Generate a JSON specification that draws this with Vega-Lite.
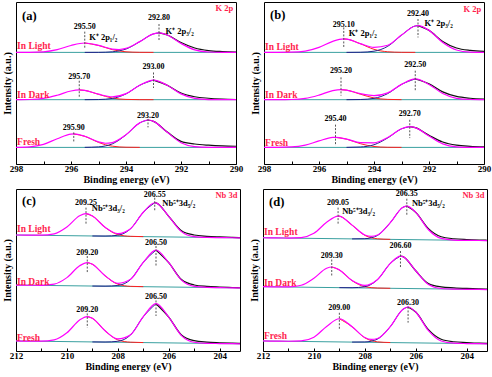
{
"$schema": "https://vega.github.io/schema/vega-lite/v6.json",
"padding": {"left": 1, "top": 1, "right": 2, "bottom": 0},
"background": "white",
"config": {
  "font": "Liberation Serif",
  "view": {"stroke": "#000", "strokeWidth": 1},
  "axis": {"labelFont": "Liberation Serif", "labelFontWeight": "bold", "labelFontSize": 9, "labelColor": "#000", "titleFont": "Liberation Serif", "titleFontWeight": "bold", "titleFontSize": 10, "titleColor": "#000", "grid": false, "domain": false, "tickColor": "#000"},
  "axisY": {"title": "Intensity (a.u.)", "labels": false, "ticks": false, "titlePadding": 4}
},
"datasets": {"d": [
{"p":"a","s":"L","x":298,"f":68.9,"b":68.9},
{"p":"a","s":"L","x":297.5,"f":68.94},
{"p":"a","s":"L","x":297,"f":69.27},
{"p":"a","s":"L","x":296.5,"f":70.61},
{"p":"a","s":"L","x":296,"f":73.17},
{"p":"a","s":"L","x":295.5,"f":74.7,"c1":74.7,"c2":68.9},
{"p":"a","s":"L","x":295,"f":73.2,"c1":73.17,"c2":68.93},
{"p":"a","s":"L","x":294.5,"f":70.96,"c1":70.61,"c2":69.25},
{"p":"a","s":"L","x":294.25,"f":70.68,"c1":69.76,"c2":69.82},
{"p":"a","s":"L","x":294,"f":71.33,"c1":69.27,"c2":70.96},
{"p":"a","s":"L","x":293.5,"f":75.54,"c1":68.94,"c2":75.5},
{"p":"a","s":"L","x":293,"f":80.32,"c1":68.9,"c2":80.32},
{"p":"a","s":"L","x":292.8,"f":80.9,"c2":80.9,"r":80.9},
{"p":"a","s":"L","x":292.5,"f":79.65,"r":79.65},
{"p":"a","s":"L","x":292,"f":74.4,"r":75.0},
{"p":"a","s":"L","x":291.5,"f":70.42,"r":71.6},
{"p":"a","s":"L","x":291,"f":69.13,"r":70.0},
{"p":"a","s":"L","x":290.5,"f":68.92,"r":69.4},
{"p":"a","s":"L","x":290,"f":68.9,"r":69.1,"b":68.9},
{"p":"a","s":"D","x":298,"f":39.7,"b":39.7},
{"p":"a","s":"D","x":297.5,"f":39.81},
{"p":"a","s":"D","x":297,"f":40.46},
{"p":"a","s":"D","x":296.5,"f":42.45},
{"p":"a","s":"D","x":296,"f":45.08},
{"p":"a","s":"D","x":295.7,"f":45.7,"c1":45.7},
{"p":"a","s":"D","x":295.5,"f":45.41,"c1":45.41,"c2":39.7},
{"p":"a","s":"D","x":295,"f":43.09,"c1":43.0,"c2":39.79},
{"p":"a","s":"D","x":294.5,"f":41.5,"c1":40.73,"c2":40.47},
{"p":"a","s":"D","x":294,"f":43.44,"c1":39.87,"c2":43.27},
{"p":"a","s":"D","x":293.5,"f":48.64,"c1":39.72,"c2":48.62},
{"p":"a","s":"D","x":293,"f":51.8,"c1":39.7,"c2":51.8,"r":51.8},
{"p":"a","s":"D","x":292.5,"f":48.62,"r":48.62},
{"p":"a","s":"D","x":292,"f":43.27,"r":43.8},
{"p":"a","s":"D","x":291.5,"f":40.47,"r":41.5},
{"p":"a","s":"D","x":291,"f":39.79,"r":40.6},
{"p":"a","s":"D","x":290.5,"f":39.7,"r":40.1},
{"p":"a","s":"D","x":290,"f":39.7,"r":39.8,"b":39.7},
{"p":"a","s":"F","x":298,"f":10.29,"b":10.25},
{"p":"a","s":"F","x":297.5,"f":10.62},
{"p":"a","s":"F","x":297,"f":12.14},
{"p":"a","s":"F","x":296.5,"f":15.6},
{"p":"a","s":"F","x":296,"f":18.45},
{"p":"a","s":"F","x":295.9,"f":18.55,"c1":18.55},
{"p":"a","s":"F","x":295.5,"f":17.11,"c1":17.08,"c2":10.28},
{"p":"a","s":"F","x":295,"f":13.66,"c1":13.34,"c2":10.57},
{"p":"a","s":"F","x":294.75,"f":12.8,"c1":11.9,"c2":11.15},
{"p":"a","s":"F","x":294.5,"f":13.16,"c1":11.01,"c2":12.4},
{"p":"a","s":"F","x":294,"f":18.09,"c1":10.35,"c2":17.99},
{"p":"a","s":"F","x":293.5,"f":25.4,"c1":10.26,"c2":25.39},
{"p":"a","s":"F","x":293.2,"f":27.15,"c2":27.15,"r":27.15},
{"p":"a","s":"F","x":293,"f":26.34,"r":26.34},
{"p":"a","s":"F","x":292.5,"f":19.55,"r":19.7},
{"p":"a","s":"F","x":292,"f":13.16,"r":13.96},
{"p":"a","s":"F","x":291.5,"f":10.74,"r":12.34},
{"p":"a","s":"F","x":291,"f":10.3,"r":11.6},
{"p":"a","s":"F","x":290.5,"f":10.25,"r":11.15},
{"p":"a","s":"F","x":290,"f":10.25,"r":10.95,"b":10.25},
{"p":"b","s":"L","x":298,"f":68.9,"b":68.9},
{"p":"b","s":"L","x":297.5,"f":68.91},
{"p":"b","s":"L","x":297,"f":69.0},
{"p":"b","s":"L","x":296.5,"f":69.66},
{"p":"b","s":"L","x":296,"f":71.99},
{"p":"b","s":"L","x":295.5,"f":75.73},
{"p":"b","s":"L","x":295.1,"f":77.2,"c1":77.2},
{"p":"b","s":"L","x":295,"f":77.1,"c1":77.1,"c2":68.9},
{"p":"b","s":"L","x":294.5,"f":74.33,"c1":74.25,"c2":68.98},
{"p":"b","s":"L","x":294,"f":72.0,"c1":70.79,"c2":69.63},
{"p":"b","s":"L","x":293.5,"f":73.3,"c1":69.27,"c2":72.66},
{"p":"b","s":"L","x":293,"f":79.57,"c1":68.94,"c2":79.53},
{"p":"b","s":"L","x":292.5,"f":85.2,"c1":68.9,"c2":85.2},
{"p":"b","s":"L","x":292.4,"f":85.4,"c2":85.4,"r":85.4},
{"p":"b","s":"L","x":292,"f":82.48,"r":82.48},
{"p":"b","s":"L","x":291.5,"f":75.04,"r":75.64},
{"p":"b","s":"L","x":291,"f":70.4,"r":71.6},
{"p":"b","s":"L","x":290.5,"f":69.1,"r":70.1},
{"p":"b","s":"L","x":290,"f":68.91,"r":69.5,"b":68.9},
{"p":"b","s":"D","x":298,"f":39.7,"b":39.7},
{"p":"b","s":"D","x":297.5,"f":39.71},
{"p":"b","s":"D","x":297,"f":39.82},
{"p":"b","s":"D","x":296.5,"f":40.49},
{"p":"b","s":"D","x":296,"f":42.54},
{"p":"b","s":"D","x":295.5,"f":45.26},
{"p":"b","s":"D","x":295.2,"f":45.9,"c1":45.9},
{"p":"b","s":"D","x":295,"f":45.6,"c1":45.6,"c2":39.7},
{"p":"b","s":"D","x":294.5,"f":43.4,"c1":43.11,"c2":39.8},
{"p":"b","s":"D","x":294,"f":42.2,"c1":40.77,"c2":40.52},
{"p":"b","s":"D","x":293.5,"f":43.9,"c1":39.88,"c2":43.48},
{"p":"b","s":"D","x":293,"f":49.15,"c1":39.72,"c2":49.13},
{"p":"b","s":"D","x":292.5,"f":52.5,"c2":52.5,"r":52.5},
{"p":"b","s":"D","x":292,"f":49.13,"r":49.5},
{"p":"b","s":"D","x":291.5,"f":43.48,"r":44.5},
{"p":"b","s":"D","x":291,"f":40.52,"r":41.7},
{"p":"b","s":"D","x":290.5,"f":39.8,"r":40.6},
{"p":"b","s":"D","x":290,"f":39.7,"r":40.1,"b":39.7},
{"p":"b","s":"F","x":298,"f":10.25,"b":10.25},
{"p":"b","s":"F","x":297.5,"f":10.28},
{"p":"b","s":"F","x":297,"f":10.52},
{"p":"b","s":"F","x":296.5,"f":11.66},
{"p":"b","s":"F","x":296,"f":14.24},
{"p":"b","s":"F","x":295.5,"f":16.38},
{"p":"b","s":"F","x":295.4,"f":16.45,"c1":16.45},
{"p":"b","s":"F","x":295,"f":15.37,"c1":15.35,"c2":10.27},
{"p":"b","s":"F","x":294.5,"f":13.2,"c1":12.56,"c2":10.49},
{"p":"b","s":"F","x":294,"f":13.1,"c1":10.81,"c2":11.88},
{"p":"b","s":"F","x":293.5,"f":16.4,"c1":10.32,"c2":16.11},
{"p":"b","s":"F","x":293,"f":21.72,"c1":10.26,"c2":21.72},
{"p":"b","s":"F","x":292.7,"f":23.05,"c2":23.05,"r":23.05},
{"p":"b","s":"F","x":292.5,"f":22.44,"r":22.44},
{"p":"b","s":"F","x":292,"f":17.29,"r":17.7},
{"p":"b","s":"F","x":291.5,"f":12.45,"r":13.55},
{"p":"b","s":"F","x":291,"f":10.62,"r":11.6},
{"p":"b","s":"F","x":290.5,"f":10.28,"r":10.9},
{"p":"b","s":"F","x":290,"f":10.25,"r":10.55,"b":10.25},
{"p":"c","s":"L","x":212,"f":71.6,"b":71.6},
{"p":"c","s":"L","x":211.5,"f":71.5},
{"p":"c","s":"L","x":211,"f":71.49},
{"p":"c","s":"L","x":210.5,"f":72.34},
{"p":"c","s":"L","x":210,"f":76.61},
{"p":"c","s":"L","x":209.5,"f":83.46},
{"p":"c","s":"L","x":209.25,"f":84.75,"c1":84.75},
{"p":"c","s":"L","x":209,"f":83.36,"c1":83.36,"c2":71.0},
{"p":"c","s":"L","x":208.5,"f":76.35,"c1":76.31,"c2":70.94},
{"p":"c","s":"L","x":208,"f":72.49,"c1":71.84,"c2":71.45},
{"p":"c","s":"L","x":207.5,"f":75.52,"c1":70.79,"c2":75.43},
{"p":"c","s":"L","x":207,"f":85.64,"c1":70.6,"c2":85.64},
{"p":"c","s":"L","x":206.55,"f":91.51,"c2":91.51,"r":91.51},
{"p":"c","s":"L","x":206.5,"f":91.42,"r":91.42},
{"p":"c","s":"L","x":206,"f":83.15,"r":83.15},
{"p":"c","s":"L","x":205.5,"f":73.7,"r":74.2},
{"p":"c","s":"L","x":205,"f":70.6,"r":71.6},
{"p":"c","s":"L","x":204.5,"f":70.12,"r":70.8},
{"p":"c","s":"L","x":204,"f":70.0,"r":70.4},
{"p":"c","s":"L","x":203.5,"f":69.9,"r":70.1},
{"p":"c","s":"L","x":203,"f":69.8,"r":69.9,"b":69.8},
{"p":"c","s":"D","x":212,"f":40.7,"b":40.7},
{"p":"c","s":"D","x":211.5,"f":40.6},
{"p":"c","s":"D","x":211,"f":40.57},
{"p":"c","s":"D","x":210.5,"f":41.28},
{"p":"c","s":"D","x":210,"f":45.3},
{"p":"c","s":"D","x":209.5,"f":52.61},
{"p":"c","s":"D","x":209.2,"f":54.54,"c1":54.54},
{"p":"c","s":"D","x":209,"f":53.58,"c1":53.58,"c2":40.1},
{"p":"c","s":"D","x":208.5,"f":46.44,"c1":46.41,"c2":40.03},
{"p":"c","s":"D","x":208,"f":41.78,"c1":41.23,"c2":40.45},
{"p":"c","s":"D","x":207.5,"f":44.26,"c1":39.92,"c2":44.14},
{"p":"c","s":"D","x":207,"f":54.74,"c1":39.71,"c2":54.73},
{"p":"c","s":"D","x":206.5,"f":62.3,"c2":62.3,"r":62.3},
{"p":"c","s":"D","x":206,"f":54.53,"r":54.53},
{"p":"c","s":"D","x":205.5,"f":43.74,"r":44.1},
{"p":"c","s":"D","x":205,"f":39.85,"r":40.75},
{"p":"c","s":"D","x":204.5,"f":39.23,"r":39.9},
{"p":"c","s":"D","x":204,"f":39.1,"r":39.5},
{"p":"c","s":"D","x":203.5,"f":39.0,"r":39.2},
{"p":"c","s":"D","x":203,"f":38.9,"r":38.95,"b":38.9},
{"p":"c","s":"F","x":212,"f":6.2,"b":6.2},
{"p":"c","s":"F","x":211.5,"f":6.1},
{"p":"c","s":"F","x":211,"f":6.07},
{"p":"c","s":"F","x":210.5,"f":6.85},
{"p":"c","s":"F","x":210,"f":11.21},
{"p":"c","s":"F","x":209.5,"f":19.15},
{"p":"c","s":"F","x":209.2,"f":21.24,"c1":21.24},
{"p":"c","s":"F","x":209,"f":20.2,"c1":20.2,"c2":5.6},
{"p":"c","s":"F","x":208.5,"f":12.47,"c1":12.44,"c2":5.53},
{"p":"c","s":"F","x":208,"f":7.43,"c1":6.84,"c2":5.99},
{"p":"c","s":"F","x":207.5,"f":10.03,"c1":5.43,"c2":9.9},
{"p":"c","s":"F","x":207,"f":21.16,"c1":5.21,"c2":21.15},
{"p":"c","s":"F","x":206.5,"f":29.2,"c2":29.2,"r":29.2},
{"p":"c","s":"F","x":206,"f":20.95,"r":20.95},
{"p":"c","s":"F","x":205.5,"f":9.5,"r":9.9},
{"p":"c","s":"F","x":205,"f":5.39,"r":6.4},
{"p":"c","s":"F","x":204.5,"f":4.73,"r":5.5},
{"p":"c","s":"F","x":204,"f":4.6,"r":5.1},
{"p":"c","s":"F","x":203.5,"f":4.5,"r":4.8},
{"p":"c","s":"F","x":203,"f":4.4,"r":4.6,"b":4.4},
{"p":"d","s":"L","x":212,"f":69.9,"b":69.9},
{"p":"d","s":"L","x":211.5,"f":69.8},
{"p":"d","s":"L","x":211,"f":69.73},
{"p":"d","s":"L","x":210.5,"f":70.03},
{"p":"d","s":"L","x":210,"f":72.65},
{"p":"d","s":"L","x":209.5,"f":79.42},
{"p":"d","s":"L","x":209.05,"f":83.31,"c1":83.31},
{"p":"d","s":"L","x":209,"f":83.24,"c1":83.24},
{"p":"d","s":"L","x":208.5,"f":77.71,"c1":77.7,"c2":69.2},
{"p":"d","s":"L","x":208,"f":71.6,"c1":71.37,"c2":69.33},
{"p":"d","s":"L","x":207.75,"f":70.72,"c1":69.91,"c2":69.86},
{"p":"d","s":"L","x":207.5,"f":71.58,"c1":69.26,"c2":71.32},
{"p":"d","s":"L","x":207,"f":79.2,"c1":68.91,"c2":79.19},
{"p":"d","s":"L","x":206.5,"f":88.73,"c2":88.73},
{"p":"d","s":"L","x":206.35,"f":89.47,"c2":89.47,"r":89.47},
{"p":"d","s":"L","x":206,"f":85.61,"r":85.61},
{"p":"d","s":"L","x":205.5,"f":74.87,"r":75.5},
{"p":"d","s":"L","x":205,"f":69.52,"r":70.5},
{"p":"d","s":"L","x":204.5,"f":68.47,"r":69.3},
{"p":"d","s":"L","x":204,"f":68.3,"r":68.8},
{"p":"d","s":"L","x":203.5,"f":68.2,"r":68.5},
{"p":"d","s":"L","x":203,"f":68.1,"r":68.3,"b":68.1},
{"p":"d","s":"D","x":212,"f":39.7,"b":39.7},
{"p":"d","s":"D","x":211.5,"f":39.6},
{"p":"d","s":"D","x":211,"f":39.61},
{"p":"d","s":"D","x":210.5,"f":40.58},
{"p":"d","s":"D","x":210,"f":44.95},
{"p":"d","s":"D","x":209.5,"f":51.09},
{"p":"d","s":"D","x":209.3,"f":51.86,"c1":51.86},
{"p":"d","s":"D","x":209,"f":50.05,"c1":50.05,"c2":39.1},
{"p":"d","s":"D","x":208.5,"f":43.46,"c1":43.41,"c2":39.05},
{"p":"d","s":"D","x":208,"f":40.46,"c1":39.68,"c2":39.68},
{"p":"d","s":"D","x":207.5,"f":44.1,"c1":38.86,"c2":44.04},
{"p":"d","s":"D","x":207,"f":54.06,"c1":38.7,"c2":54.06},
{"p":"d","s":"D","x":206.6,"f":58.62,"c2":58.62,"r":58.62},
{"p":"d","s":"D","x":206.5,"f":58.28,"r":58.28},
{"p":"d","s":"D","x":206,"f":49.54,"r":49.54},
{"p":"d","s":"D","x":205.5,"f":41.1,"r":41.6},
{"p":"d","s":"D","x":205,"f":38.59,"r":39.6},
{"p":"d","s":"D","x":204.5,"f":38.21,"r":39.0},
{"p":"d","s":"D","x":204,"f":38.1,"r":38.6},
{"p":"d","s":"D","x":203.5,"f":38.0,"r":38.3},
{"p":"d","s":"D","x":203,"f":37.9,"r":38.1,"b":37.9},
{"p":"d","s":"F","x":212,"f":6.2,"b":6.2},
{"p":"d","s":"F","x":211.5,"f":6.1},
{"p":"d","s":"F","x":211,"f":6.02},
{"p":"d","s":"F","x":210.5,"f":6.25},
{"p":"d","s":"F","x":210,"f":8.53},
{"p":"d","s":"F","x":209.5,"f":15.17},
{"p":"d","s":"F","x":209,"f":19.9,"c1":19.9},
{"p":"d","s":"F","x":208.5,"f":14.97,"c1":14.97,"c2":5.5},
{"p":"d","s":"F","x":208,"f":8.32,"c1":8.13,"c2":5.59},
{"p":"d","s":"F","x":207.75,"f":7.12,"c1":6.43,"c2":6.04},
{"p":"d","s":"F","x":207.5,"f":7.7,"c1":5.65,"c2":7.35},
{"p":"d","s":"F","x":207,"f":15.05,"c1":5.22,"c2":15.03},
{"p":"d","s":"F","x":206.5,"f":25.79,"c2":25.79},
{"p":"d","s":"F","x":206.3,"f":27.16,"c2":27.16,"r":27.16},
{"p":"d","s":"F","x":206,"f":24.05,"r":24.05},
{"p":"d","s":"F","x":205.5,"f":12.57,"r":13.2},
{"p":"d","s":"F","x":205,"f":6.15,"r":7.25},
{"p":"d","s":"F","x":204.5,"f":4.8,"r":5.7},
{"p":"d","s":"F","x":204,"f":4.6,"r":5.2},
{"p":"d","s":"F","x":203.5,"f":4.5,"r":4.8},
{"p":"d","s":"F","x":203,"f":4.4,"r":4.6,"b":4.4},
{"p":"a","k":"num","x":295.5,"y":84.75,"t":"295.50"},
{"p":"a","k":"num","x":292.8,"y":89.9,"t":"292.80"},
{"p":"a","k":"num","x":295.7,"y":53.9,"t":"295.70"},
{"p":"a","k":"num","x":293.0,"y":59.6,"t":"293.00"},
{"p":"a","k":"num","x":295.9,"y":22.2,"t":"295.90"},
{"p":"a","k":"num","x":293.2,"y":29.8,"t":"293.20"},
{"p":"a","k":"dash","x":295.5,"y1":81.7,"y2":71.6},
{"p":"a","k":"dash","x":292.8,"y1":86.4,"y2":76.5},
{"p":"a","k":"dash","x":295.7,"y1":51.4,"y2":41.1},
{"p":"a","k":"dash","x":293.0,"y1":56.5,"y2":46.9},
{"p":"a","k":"dash","x":295.9,"y1":19.5,"y2":13.3},
{"p":"a","k":"dash","x":293.2,"y1":27.8,"y2":22.6},
{"p":"a","k":"ann","x":295.34,"y":78.6,"t":"K⁺ 2p₁/₂"},
{"p":"a","k":"ann","x":292.56,"y":82.4,"t":"K⁺ 2p₃/₂"},
{"p":"a","k":"cond","x":297.96,"y":72.6,"t":"In Light"},
{"p":"a","k":"cond","x":297.96,"y":42.6,"t":"In Dark"},
{"p":"a","k":"cond","x":297.96,"y":13.3,"t":"Fresh"},
{"p":"a","k":"lab","x":297.78,"y":91.5,"t":"(a)"},
{"p":"a","k":"el","x":290.1,"y":96.2,"t":"K 2p"},
{"p":"b","k":"num","x":295.1,"y":86.0,"t":"295.10"},
{"p":"b","k":"num","x":292.4,"y":92.6,"t":"292.40"},
{"p":"b","k":"num","x":295.2,"y":57.2,"t":"295.20"},
{"p":"b","k":"num","x":292.5,"y":61.4,"t":"292.50"},
{"p":"b","k":"num","x":295.4,"y":27.8,"t":"295.40"},
{"p":"b","k":"num","x":292.7,"y":30.9,"t":"292.70"},
{"p":"b","k":"dash","x":295.1,"y1":84.3,"y2":72.0},
{"p":"b","k":"dash","x":292.4,"y1":89.5,"y2":78.1},
{"p":"b","k":"dash","x":295.2,"y1":53.5,"y2":42.2},
{"p":"b","k":"dash","x":292.5,"y1":57.6,"y2":45.2},
{"p":"b","k":"dash","x":295.4,"y1":24.3,"y2":11.3},
{"p":"b","k":"dash","x":292.7,"y1":27.3,"y2":16.0},
{"p":"b","k":"ann","x":294.92,"y":80.9,"t":"K⁺ 2p₁/₂"},
{"p":"b","k":"ann","x":292.16,"y":86.8,"t":"K⁺ 2p₃/₂"},
{"p":"b","k":"cond","x":297.96,"y":72.0,"t":"In Light"},
{"p":"b","k":"cond","x":297.96,"y":42.8,"t":"In Dark"},
{"p":"b","k":"cond","x":297.96,"y":12.7,"t":"Fresh"},
{"p":"b","k":"lab","x":297.78,"y":92.0,"t":"(b)"},
{"p":"b","k":"el","x":290.1,"y":95.7,"t":"K 2p"},
{"p":"c","k":"num","x":209.25,"y":91.5,"t":"209.25"},
{"p":"c","k":"num","x":206.55,"y":96.0,"t":"206.55"},
{"p":"c","k":"num","x":209.2,"y":60.7,"t":"209.20"},
{"p":"c","k":"num","x":206.5,"y":66.9,"t":"206.50"},
{"p":"c","k":"num","x":209.2,"y":25.1,"t":"209.20"},
{"p":"c","k":"num","x":206.5,"y":33.3,"t":"206.50"},
{"p":"c","k":"dash","x":209.25,"y1":88.5,"y2":78.6},
{"p":"c","k":"dash","x":206.55,"y1":94.6,"y2":86.0},
{"p":"c","k":"dash","x":209.2,"y1":58.6,"y2":48.3},
{"p":"c","k":"dash","x":206.5,"y1":64.8,"y2":52.5},
{"p":"c","k":"dash","x":209.2,"y1":23.2,"y2":14.4},
{"p":"c","k":"dash","x":206.5,"y1":31.2,"y2":21.6},
{"p":"c","k":"ann","x":209.02,"y":88.0,"t":"Nb⁵⁺3d₃/₂"},
{"p":"c","k":"ann","x":206.25,"y":91.5,"t":"Nb⁵⁺3d₅/₂"},
{"p":"c","k":"cond","x":211.96,"y":75.1,"t":"In Light"},
{"p":"c","k":"cond","x":211.96,"y":42.6,"t":"In Dark"},
{"p":"c","k":"cond","x":211.96,"y":8.2,"t":"Fresh"},
{"p":"c","k":"lab","x":211.76,"y":92.6,"t":"(c)"},
{"p":"c","k":"el","x":203.3,"y":96.3,"t":"Nb 3d"},
{"p":"d","k":"num","x":209.05,"y":91.5,"t":"209.05"},
{"p":"d","k":"num","x":206.35,"y":96.7,"t":"206.35"},
{"p":"d","k":"num","x":209.3,"y":58.6,"t":"209.30"},
{"p":"d","k":"num","x":206.6,"y":64.8,"t":"206.60"},
{"p":"d","k":"num","x":209.0,"y":26.3,"t":"209.00"},
{"p":"d","k":"num","x":206.3,"y":29.8,"t":"206.30"},
{"p":"d","k":"dash","x":209.05,"y1":88.5,"y2":77.8},
{"p":"d","k":"dash","x":206.35,"y1":94.0,"y2":83.3},
{"p":"d","k":"dash","x":209.3,"y1":56.5,"y2":46.3},
{"p":"d","k":"dash","x":206.6,"y1":61.7,"y2":51.4},
{"p":"d","k":"dash","x":209.0,"y1":23.6,"y2":13.3},
{"p":"d","k":"dash","x":206.3,"y1":27.2,"y2":17.5},
{"p":"d","k":"ann","x":208.89,"y":86.4,"t":"Nb⁵⁺3d₃/₂"},
{"p":"d","k":"ann","x":206.15,"y":91.5,"t":"Nb⁵⁺3d₅/₂"},
{"p":"d","k":"cond","x":211.96,"y":73.5,"t":"In Light"},
{"p":"d","k":"cond","x":211.96,"y":42.2,"t":"In Dark"},
{"p":"d","k":"cond","x":211.96,"y":9.3,"t":"Fresh"},
{"p":"d","k":"lab","x":211.76,"y":92.0,"t":"(d)"},
{"p":"d","k":"el","x":203.3,"y":96.3,"t":"Nb 3d"}
]},
"spacing": 3,
"vconcat": [
{"spacing": 5, "hconcat": [
{"width": 220, "height": 162, "data": {"name": "d"}, "transform": [{"filter": "datum.p=='a'"}],
 "encoding": {"x": {"field": "x", "type": "quantitative", "scale": {"domain": [290, 298], "reverse": true, "nice": false, "zero": false}, "axis": {"title": "Binding energy (eV)", "values": [290,291,292,293,294,295,296,297,298], "labelExpr": "datum.value % 2 == 0 ? datum.label : ''", "tickSize": -3, "labelPadding": 3, "titlePadding": 1, "labelFlush": false, "labelOverlap": false, "format": "d"}}},
 "layer": [
  {"transform": [{"filter": "isValid(datum.b)"}], "mark": {"type": "line", "color": "#3aa0a0", "strokeWidth": 1, "clip": true}, "encoding": {"y": {"field": "b", "type": "quantitative", "scale": {"domain": [0, 100]}, "title": "Intensity (a.u.)"}, "detail": {"field": "s"}}},
  {"transform": [{"filter": "isValid(datum.c1)"}], "mark": {"type": "line", "color": "#ff2020", "strokeWidth": 1, "interpolate": "monotone", "clip": true}, "encoding": {"y": {"field": "c1", "type": "quantitative", "scale": {"domain": [0, 100]}, "title": "Intensity (a.u.)"}, "detail": {"field": "s"}}},
  {"transform": [{"filter": "isValid(datum.c2)"}], "mark": {"type": "line", "color": "#20208a", "strokeWidth": 1, "interpolate": "monotone", "clip": true}, "encoding": {"y": {"field": "c2", "type": "quantitative", "scale": {"domain": [0, 100]}, "title": "Intensity (a.u.)"}, "detail": {"field": "s"}}},
  {"transform": [{"filter": "isValid(datum.r)"}], "mark": {"type": "line", "color": "#111", "strokeWidth": 1.2, "interpolate": "monotone", "clip": true}, "encoding": {"y": {"field": "r", "type": "quantitative", "scale": {"domain": [0, 100]}, "title": "Intensity (a.u.)"}, "detail": {"field": "s"}}},
  {"transform": [{"filter": "isValid(datum.f)"}], "mark": {"type": "line", "color": "#ff00ff", "strokeWidth": 1.2, "interpolate": "monotone", "clip": true}, "encoding": {"y": {"field": "f", "type": "quantitative", "scale": {"domain": [0, 100]}, "title": "Intensity (a.u.)"}, "detail": {"field": "s"}}},
  {"transform": [{"filter": "datum.k=='dash'"}], "mark": {"type": "rule", "color": "#555", "strokeWidth": 1, "strokeDash": [2, 1.5]}, "encoding": {"y": {"field": "y1", "type": "quantitative", "scale": {"domain": [0, 100]}, "title": "Intensity (a.u.)"}, "y2": {"field": "y2"}}},
  {"transform": [{"filter": "datum.k=='num'"}], "mark": {"type": "text", "font": "Liberation Serif", "fontWeight": "bold", "fontSize": 8, "color": "#000", "align": "center", "baseline": "middle"}, "encoding": {"y": {"field": "y", "type": "quantitative", "scale": {"domain": [0, 100]}, "title": "Intensity (a.u.)"}, "text": {"field": "t"}}},
  {"transform": [{"filter": "datum.k=='ann'"}], "mark": {"type": "text", "font": "Liberation Serif", "fontWeight": "bold", "fontSize": 8.5, "color": "#000", "align": "left", "baseline": "middle"}, "encoding": {"y": {"field": "y", "type": "quantitative", "scale": {"domain": [0, 100]}, "title": "Intensity (a.u.)"}, "text": {"field": "t"}}},
  {"transform": [{"filter": "datum.k=='cond'"}], "mark": {"type": "text", "font": "Liberation Serif", "fontWeight": "bold", "fontSize": 9.5, "color": "#ff1f4f", "align": "left", "baseline": "middle"}, "encoding": {"y": {"field": "y", "type": "quantitative", "scale": {"domain": [0, 100]}, "title": "Intensity (a.u.)"}, "text": {"field": "t"}}},
  {"transform": [{"filter": "datum.k=='lab'"}], "mark": {"type": "text", "font": "Liberation Serif", "fontWeight": "bold", "fontSize": 12.5, "color": "#000", "align": "left", "baseline": "middle"}, "encoding": {"y": {"field": "y", "type": "quantitative", "scale": {"domain": [0, 100]}, "title": "Intensity (a.u.)"}, "text": {"field": "t"}}},
  {"transform": [{"filter": "datum.k=='el'"}], "mark": {"type": "text", "font": "Liberation Serif", "fontWeight": "bold", "fontSize": 8.5, "color": "#ff1f4f", "align": "right", "baseline": "middle"}, "encoding": {"y": {"field": "y", "type": "quantitative", "scale": {"domain": [0, 100]}, "title": "Intensity (a.u.)"}, "text": {"field": "t"}}}
 ]},
{"width": 220, "height": 162, "data": {"name": "d"}, "transform": [{"filter": "datum.p=='b'"}],
 "encoding": {"x": {"field": "x", "type": "quantitative", "scale": {"domain": [290, 298], "reverse": true, "nice": false, "zero": false}, "axis": {"title": "Binding energy (eV)", "values": [290,291,292,293,294,295,296,297,298], "labelExpr": "datum.value % 2 == 0 ? datum.label : ''", "tickSize": -3, "labelPadding": 3, "titlePadding": 1, "labelFlush": false, "labelOverlap": false, "format": "d"}}},
 "layer": [
  {"transform": [{"filter": "isValid(datum.b)"}], "mark": {"type": "line", "color": "#3aa0a0", "strokeWidth": 1, "clip": true}, "encoding": {"y": {"field": "b", "type": "quantitative", "scale": {"domain": [0, 100]}, "title": "Intensity (a.u.)"}, "detail": {"field": "s"}}},
  {"transform": [{"filter": "isValid(datum.c1)"}], "mark": {"type": "line", "color": "#ff2020", "strokeWidth": 1, "interpolate": "monotone", "clip": true}, "encoding": {"y": {"field": "c1", "type": "quantitative", "scale": {"domain": [0, 100]}, "title": "Intensity (a.u.)"}, "detail": {"field": "s"}}},
  {"transform": [{"filter": "isValid(datum.c2)"}], "mark": {"type": "line", "color": "#20208a", "strokeWidth": 1, "interpolate": "monotone", "clip": true}, "encoding": {"y": {"field": "c2", "type": "quantitative", "scale": {"domain": [0, 100]}, "title": "Intensity (a.u.)"}, "detail": {"field": "s"}}},
  {"transform": [{"filter": "isValid(datum.r)"}], "mark": {"type": "line", "color": "#111", "strokeWidth": 1.2, "interpolate": "monotone", "clip": true}, "encoding": {"y": {"field": "r", "type": "quantitative", "scale": {"domain": [0, 100]}, "title": "Intensity (a.u.)"}, "detail": {"field": "s"}}},
  {"transform": [{"filter": "isValid(datum.f)"}], "mark": {"type": "line", "color": "#ff00ff", "strokeWidth": 1.2, "interpolate": "monotone", "clip": true}, "encoding": {"y": {"field": "f", "type": "quantitative", "scale": {"domain": [0, 100]}, "title": "Intensity (a.u.)"}, "detail": {"field": "s"}}},
  {"transform": [{"filter": "datum.k=='dash'"}], "mark": {"type": "rule", "color": "#555", "strokeWidth": 1, "strokeDash": [2, 1.5]}, "encoding": {"y": {"field": "y1", "type": "quantitative", "scale": {"domain": [0, 100]}, "title": "Intensity (a.u.)"}, "y2": {"field": "y2"}}},
  {"transform": [{"filter": "datum.k=='num'"}], "mark": {"type": "text", "font": "Liberation Serif", "fontWeight": "bold", "fontSize": 8, "color": "#000", "align": "center", "baseline": "middle"}, "encoding": {"y": {"field": "y", "type": "quantitative", "scale": {"domain": [0, 100]}, "title": "Intensity (a.u.)"}, "text": {"field": "t"}}},
  {"transform": [{"filter": "datum.k=='ann'"}], "mark": {"type": "text", "font": "Liberation Serif", "fontWeight": "bold", "fontSize": 8.5, "color": "#000", "align": "left", "baseline": "middle"}, "encoding": {"y": {"field": "y", "type": "quantitative", "scale": {"domain": [0, 100]}, "title": "Intensity (a.u.)"}, "text": {"field": "t"}}},
  {"transform": [{"filter": "datum.k=='cond'"}], "mark": {"type": "text", "font": "Liberation Serif", "fontWeight": "bold", "fontSize": 9.5, "color": "#ff1f4f", "align": "left", "baseline": "middle"}, "encoding": {"y": {"field": "y", "type": "quantitative", "scale": {"domain": [0, 100]}, "title": "Intensity (a.u.)"}, "text": {"field": "t"}}},
  {"transform": [{"filter": "datum.k=='lab'"}], "mark": {"type": "text", "font": "Liberation Serif", "fontWeight": "bold", "fontSize": 12.5, "color": "#000", "align": "left", "baseline": "middle"}, "encoding": {"y": {"field": "y", "type": "quantitative", "scale": {"domain": [0, 100]}, "title": "Intensity (a.u.)"}, "text": {"field": "t"}}},
  {"transform": [{"filter": "datum.k=='el'"}], "mark": {"type": "text", "font": "Liberation Serif", "fontWeight": "bold", "fontSize": 8.5, "color": "#ff1f4f", "align": "right", "baseline": "middle"}, "encoding": {"y": {"field": "y", "type": "quantitative", "scale": {"domain": [0, 100]}, "title": "Intensity (a.u.)"}, "text": {"field": "t"}}}
 ]}
]},
{"spacing": 7, "hconcat": [
{"width": 224, "height": 162, "data": {"name": "d"}, "transform": [{"filter": "datum.p=='c'"}],
 "encoding": {"x": {"field": "x", "type": "quantitative", "scale": {"domain": [203.2, 212], "reverse": true, "nice": false, "zero": false}, "axis": {"title": "Binding energy (eV)", "values": [204,205,206,207,208,209,210,211,212], "labelExpr": "datum.value % 2 == 0 ? datum.label : ''", "tickSize": -3, "labelPadding": 3, "titlePadding": 1, "labelFlush": false, "labelOverlap": false, "format": "d"}}},
 "layer": [
  {"transform": [{"filter": "isValid(datum.b)"}], "mark": {"type": "line", "color": "#3aa0a0", "strokeWidth": 1, "clip": true}, "encoding": {"y": {"field": "b", "type": "quantitative", "scale": {"domain": [0, 100]}, "title": "Intensity (a.u.)"}, "detail": {"field": "s"}}},
  {"transform": [{"filter": "isValid(datum.c1)"}], "mark": {"type": "line", "color": "#ff2020", "strokeWidth": 1, "interpolate": "monotone", "clip": true}, "encoding": {"y": {"field": "c1", "type": "quantitative", "scale": {"domain": [0, 100]}, "title": "Intensity (a.u.)"}, "detail": {"field": "s"}}},
  {"transform": [{"filter": "isValid(datum.c2)"}], "mark": {"type": "line", "color": "#20208a", "strokeWidth": 1, "interpolate": "monotone", "clip": true}, "encoding": {"y": {"field": "c2", "type": "quantitative", "scale": {"domain": [0, 100]}, "title": "Intensity (a.u.)"}, "detail": {"field": "s"}}},
  {"transform": [{"filter": "isValid(datum.r)"}], "mark": {"type": "line", "color": "#111", "strokeWidth": 1.2, "interpolate": "monotone", "clip": true}, "encoding": {"y": {"field": "r", "type": "quantitative", "scale": {"domain": [0, 100]}, "title": "Intensity (a.u.)"}, "detail": {"field": "s"}}},
  {"transform": [{"filter": "isValid(datum.f)"}], "mark": {"type": "line", "color": "#ff00ff", "strokeWidth": 1.2, "interpolate": "monotone", "clip": true}, "encoding": {"y": {"field": "f", "type": "quantitative", "scale": {"domain": [0, 100]}, "title": "Intensity (a.u.)"}, "detail": {"field": "s"}}},
  {"transform": [{"filter": "datum.k=='dash'"}], "mark": {"type": "rule", "color": "#555", "strokeWidth": 1, "strokeDash": [2, 1.5]}, "encoding": {"y": {"field": "y1", "type": "quantitative", "scale": {"domain": [0, 100]}, "title": "Intensity (a.u.)"}, "y2": {"field": "y2"}}},
  {"transform": [{"filter": "datum.k=='num'"}], "mark": {"type": "text", "font": "Liberation Serif", "fontWeight": "bold", "fontSize": 8, "color": "#000", "align": "center", "baseline": "middle"}, "encoding": {"y": {"field": "y", "type": "quantitative", "scale": {"domain": [0, 100]}, "title": "Intensity (a.u.)"}, "text": {"field": "t"}}},
  {"transform": [{"filter": "datum.k=='ann'"}], "mark": {"type": "text", "font": "Liberation Serif", "fontWeight": "bold", "fontSize": 8.5, "color": "#000", "align": "left", "baseline": "middle"}, "encoding": {"y": {"field": "y", "type": "quantitative", "scale": {"domain": [0, 100]}, "title": "Intensity (a.u.)"}, "text": {"field": "t"}}},
  {"transform": [{"filter": "datum.k=='cond'"}], "mark": {"type": "text", "font": "Liberation Serif", "fontWeight": "bold", "fontSize": 9.5, "color": "#ff1f4f", "align": "left", "baseline": "middle"}, "encoding": {"y": {"field": "y", "type": "quantitative", "scale": {"domain": [0, 100]}, "title": "Intensity (a.u.)"}, "text": {"field": "t"}}},
  {"transform": [{"filter": "datum.k=='lab'"}], "mark": {"type": "text", "font": "Liberation Serif", "fontWeight": "bold", "fontSize": 12.5, "color": "#000", "align": "left", "baseline": "middle"}, "encoding": {"y": {"field": "y", "type": "quantitative", "scale": {"domain": [0, 100]}, "title": "Intensity (a.u.)"}, "text": {"field": "t"}}},
  {"transform": [{"filter": "datum.k=='el'"}], "mark": {"type": "text", "font": "Liberation Serif", "fontWeight": "bold", "fontSize": 8.5, "color": "#ff1f4f", "align": "right", "baseline": "middle"}, "encoding": {"y": {"field": "y", "type": "quantitative", "scale": {"domain": [0, 100]}, "title": "Intensity (a.u.)"}, "text": {"field": "t"}}}
 ]},
{"width": 224, "height": 162, "data": {"name": "d"}, "transform": [{"filter": "datum.p=='d'"}],
 "encoding": {"x": {"field": "x", "type": "quantitative", "scale": {"domain": [203.2, 212], "reverse": true, "nice": false, "zero": false}, "axis": {"title": "Binding energy (eV)", "values": [204,205,206,207,208,209,210,211,212], "labelExpr": "datum.value % 2 == 0 ? datum.label : ''", "tickSize": -3, "labelPadding": 3, "titlePadding": 1, "labelFlush": false, "labelOverlap": false, "format": "d"}}},
 "layer": [
  {"transform": [{"filter": "isValid(datum.b)"}], "mark": {"type": "line", "color": "#3aa0a0", "strokeWidth": 1, "clip": true}, "encoding": {"y": {"field": "b", "type": "quantitative", "scale": {"domain": [0, 100]}, "title": "Intensity (a.u.)"}, "detail": {"field": "s"}}},
  {"transform": [{"filter": "isValid(datum.c1)"}], "mark": {"type": "line", "color": "#ff2020", "strokeWidth": 1, "interpolate": "monotone", "clip": true}, "encoding": {"y": {"field": "c1", "type": "quantitative", "scale": {"domain": [0, 100]}, "title": "Intensity (a.u.)"}, "detail": {"field": "s"}}},
  {"transform": [{"filter": "isValid(datum.c2)"}], "mark": {"type": "line", "color": "#20208a", "strokeWidth": 1, "interpolate": "monotone", "clip": true}, "encoding": {"y": {"field": "c2", "type": "quantitative", "scale": {"domain": [0, 100]}, "title": "Intensity (a.u.)"}, "detail": {"field": "s"}}},
  {"transform": [{"filter": "isValid(datum.r)"}], "mark": {"type": "line", "color": "#111", "strokeWidth": 1.2, "interpolate": "monotone", "clip": true}, "encoding": {"y": {"field": "r", "type": "quantitative", "scale": {"domain": [0, 100]}, "title": "Intensity (a.u.)"}, "detail": {"field": "s"}}},
  {"transform": [{"filter": "isValid(datum.f)"}], "mark": {"type": "line", "color": "#ff00ff", "strokeWidth": 1.2, "interpolate": "monotone", "clip": true}, "encoding": {"y": {"field": "f", "type": "quantitative", "scale": {"domain": [0, 100]}, "title": "Intensity (a.u.)"}, "detail": {"field": "s"}}},
  {"transform": [{"filter": "datum.k=='dash'"}], "mark": {"type": "rule", "color": "#555", "strokeWidth": 1, "strokeDash": [2, 1.5]}, "encoding": {"y": {"field": "y1", "type": "quantitative", "scale": {"domain": [0, 100]}, "title": "Intensity (a.u.)"}, "y2": {"field": "y2"}}},
  {"transform": [{"filter": "datum.k=='num'"}], "mark": {"type": "text", "font": "Liberation Serif", "fontWeight": "bold", "fontSize": 8, "color": "#000", "align": "center", "baseline": "middle"}, "encoding": {"y": {"field": "y", "type": "quantitative", "scale": {"domain": [0, 100]}, "title": "Intensity (a.u.)"}, "text": {"field": "t"}}},
  {"transform": [{"filter": "datum.k=='ann'"}], "mark": {"type": "text", "font": "Liberation Serif", "fontWeight": "bold", "fontSize": 8.5, "color": "#000", "align": "left", "baseline": "middle"}, "encoding": {"y": {"field": "y", "type": "quantitative", "scale": {"domain": [0, 100]}, "title": "Intensity (a.u.)"}, "text": {"field": "t"}}},
  {"transform": [{"filter": "datum.k=='cond'"}], "mark": {"type": "text", "font": "Liberation Serif", "fontWeight": "bold", "fontSize": 9.5, "color": "#ff1f4f", "align": "left", "baseline": "middle"}, "encoding": {"y": {"field": "y", "type": "quantitative", "scale": {"domain": [0, 100]}, "title": "Intensity (a.u.)"}, "text": {"field": "t"}}},
  {"transform": [{"filter": "datum.k=='lab'"}], "mark": {"type": "text", "font": "Liberation Serif", "fontWeight": "bold", "fontSize": 12.5, "color": "#000", "align": "left", "baseline": "middle"}, "encoding": {"y": {"field": "y", "type": "quantitative", "scale": {"domain": [0, 100]}, "title": "Intensity (a.u.)"}, "text": {"field": "t"}}},
  {"transform": [{"filter": "datum.k=='el'"}], "mark": {"type": "text", "font": "Liberation Serif", "fontWeight": "bold", "fontSize": 8.5, "color": "#ff1f4f", "align": "right", "baseline": "middle"}, "encoding": {"y": {"field": "y", "type": "quantitative", "scale": {"domain": [0, 100]}, "title": "Intensity (a.u.)"}, "text": {"field": "t"}}}
 ]}
]}
]
}
